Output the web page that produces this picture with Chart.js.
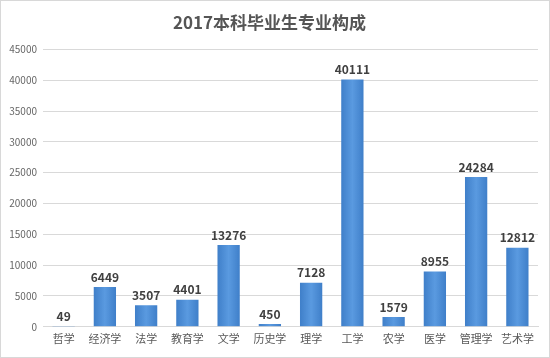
<!DOCTYPE html>
<html>
<head>
<meta charset="utf-8">
<script src="https://cdn.jsdelivr.net/npm/chart.js@4"></script>
<style>
  html, body { margin: 0; padding: 0; background: #fff; }
  #wrap { width: 548px; height: 356px; border: 1px solid #d8d8d8; position: relative; }
</style>
</head>
<body>
<div id="wrap"><canvas id="myChart" width="548" height="356"></canvas></div>
<script>
var majors = ['哲学', '经济学', '法学', '教育学', '文学', '历史学', '理学', '工学', '农学', '医学', '管理学', '艺术学'];
var graduates = [49, 6449, 3507, 4401, 13276, 450, 7128, 40111, 1579, 8955, 24284, 12812];
var yTicks = [0, 5000, 10000, 15000, 20000, 25000, 30000, 35000, 40000, 45000];

var CJK = '"Noto Sans CJK SC", "Noto Sans", sans-serif';

// value labels above each bar
var barLabels = {
    id: 'barLabels',
    afterDatasetsDraw: function(chart) {
        var ctx = chart.ctx;
        var meta = chart.getDatasetMeta(0);
        ctx.save();
        ctx.font = 'bold 12px ' + CJK;
        ctx.fillStyle = '#404040';
        ctx.textAlign = 'center';
        ctx.textBaseline = 'bottom';
        meta.data.forEach(function(bar, i) {
            ctx.fillText(String(graduates[i]), bar.x, bar.y - 4);
        });
        ctx.restore();
    }
};

// soft horizontal shading on the bars, like the office chart
function barFill(context) {
    var el = context.element;
    if (!el || el.width == null || isNaN(el.x)) return '#4a8ad4';
    var half = el.width / 2;
    var g = context.chart.ctx.createLinearGradient(el.x - half, 0, el.x + half, 0);
    g.addColorStop(0, '#3f7fc9');
    g.addColorStop(0.5, '#5a9ae0');
    g.addColorStop(1, '#3f7fc9');
    return g;
}

var ctx = document.getElementById('myChart').getContext('2d');
var myChart = new Chart(ctx, {
    type: 'bar',
    data: {
        labels: majors,
        datasets: [{
            label: '人数',
            data: graduates,
            backgroundColor: '#4a8ad4',
            borderWidth: 0,
            categoryPercentage: 1,
            barPercentage: 0.54
        }]
    },
    options: {
        responsive: false,
        animation: false,
        layout: {
            padding: { left: 0, right: 11, top: 6, bottom: 7 }
        },
        plugins: {
            legend: { display: false },
            tooltip: { enabled: false },
            title: {
                display: true,
                text: '2017本科毕业生专业构成',
                color: '#555555',
                font: { family: CJK, size: 17, weight: 'bold' },
                padding: { top: 5, bottom: 17 }
            }
        },
        scales: {
            x: {
                grid: { display: false, drawTicks: false },
                border: { color: '#d9d9d9' },
                ticks: {
                    color: '#595959',
                    font: { family: CJK, size: 11 },
                    padding: 5,
                    maxRotation: 0,
                    autoSkip: false
                }
            },
            y: {
                min: 0,
                max: 45000,
                afterFit: function(scale) { scale.width = 42; },
                afterBuildTicks: function(scale) {
                    scale.ticks = yTicks.map(function(v) { return { value: v }; });
                },
                grid: { color: '#d9d9d9', drawTicks: false },
                border: { display: false },
                ticks: {
                    color: '#666666',
                    font: { family: CJK, size: 10 },
                    padding: 6,
                    callback: function(v) { return String(v); }
                }
            }
        }
    },
    plugins: [barLabels]
});
myChart.data.datasets[0].backgroundColor = barFill;
myChart.update();
</script>
</body>
</html>
